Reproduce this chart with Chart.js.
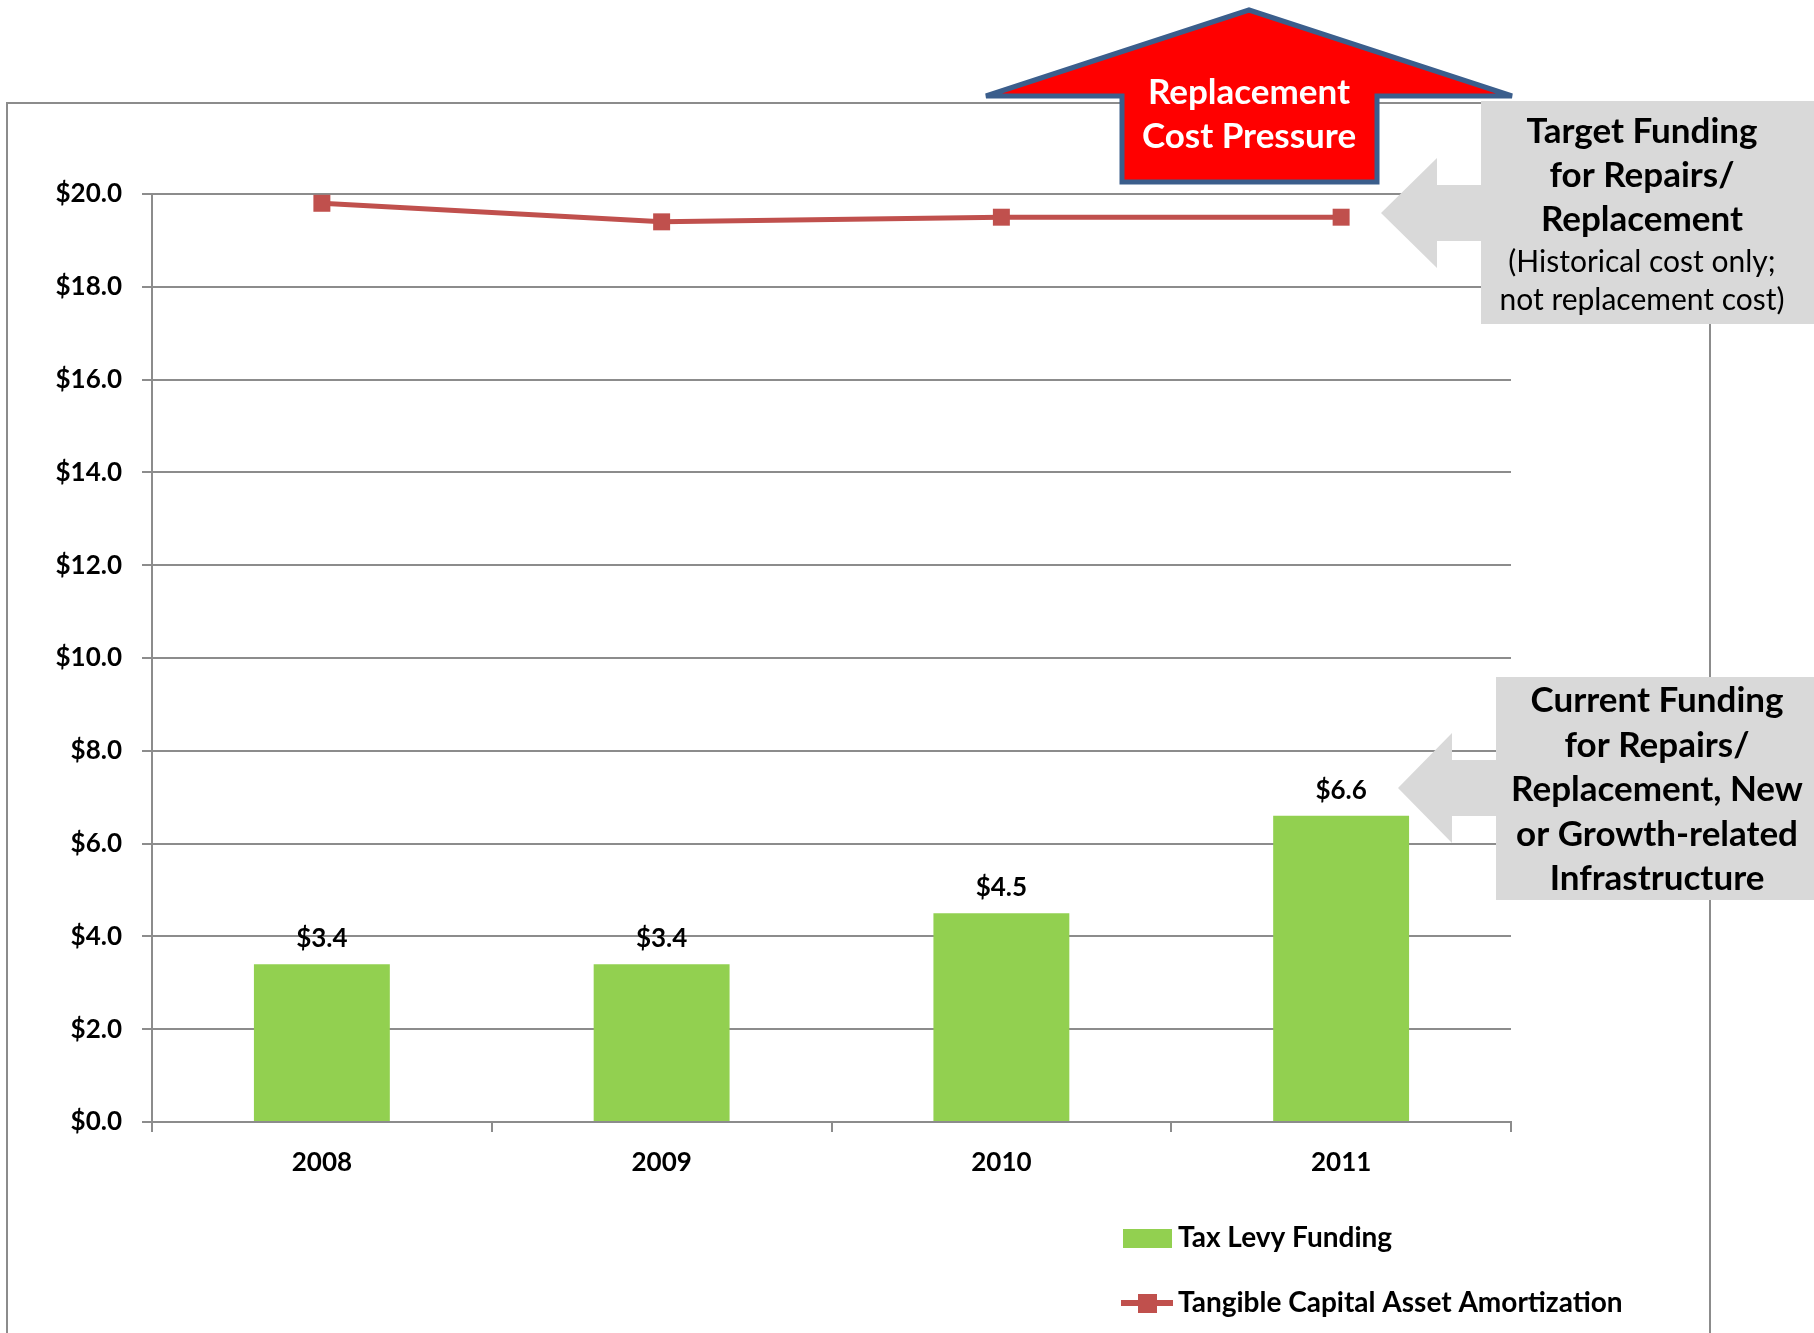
<!DOCTYPE html>
<html>
<head>
<meta charset="utf-8">
<script src="https://cdn.jsdelivr.net/npm/chart.js@4.4.1/dist/chart.umd.min.js"></script>
<style>
  html, body { margin: 0; padding: 0; background: #fff; }
  #wrap { width: 1814px; height: 1333px; }
</style>
</head>
<body>
<div id="wrap"><canvas id="funding" width="1814" height="1333"></canvas></div>
<script>
var years = ["2008", "2009", "2010", "2011"];
var taxLevy = [3.4, 3.4, 4.5, 6.6];
var amortization = [19.8, 19.4, 19.5, 19.5];
var seriesNames = ["Tax Levy Funding", "Tangible Capital Asset Amortization"];
var yMin = 0, yMax = 20, yStep = 2;

// callout texts
var arrowText = ["Replacement", "Cost Pressure"];
var targetText = ["Target Funding", "for Repairs/", "Replacement"];
var targetNote = ["(Historical cost only;", "not replacement cost)"];
var currentText = ["Current Funding", "for Repairs/", "Replacement, New", "or Growth-related", "Infrastructure"];

var green = "#92D050";
var red = "#C0504D";
var gridGray = "#8C8C8C";
var calloutGray = "#D9D9D9";
var FONT = "Lato, 'Open Sans', sans-serif";

function poly(ctx, pts) {
  ctx.beginPath();
  ctx.moveTo(pts[0][0], pts[0][1]);
  for (var i = 1; i < pts.length; i++) ctx.lineTo(pts[i][0], pts[i][1]);
  ctx.closePath();
}

function lines(ctx, arr, x, y0, step, font, color) {
  ctx.font = font;
  ctx.fillStyle = color;
  ctx.textAlign = "center";
  ctx.textBaseline = "middle";
  arr.forEach(function (t, i) { ctx.fillText(t, x, y0 + i * step); });
}

// grey box with a fat arrow pointing left
function callout(ctx, tipX, tipY, headX, boxX, boxTop, boxBottom) {
  ctx.fillStyle = calloutGray;
  ctx.fillRect(boxX, boxTop, 1814 - boxX, boxBottom - boxTop);
  poly(ctx, [[tipX, tipY], [headX, tipY - 55], [headX, tipY - 28], [boxX + 1, tipY - 28],
             [boxX + 1, tipY + 28], [headX, tipY + 28], [headX, tipY + 55]]);
  ctx.fill();
}

var decor = {
  id: "decor",
  beforeDraw: function (chart) {
    var ctx = chart.ctx;
    ctx.save();
    ctx.fillStyle = "#fff";
    ctx.fillRect(0, 0, chart.width, chart.height);
    ctx.strokeStyle = gridGray;
    ctx.lineWidth = 2;
    ctx.strokeRect(7, 103, 1703, 1300);
    ctx.restore();
  },
  afterDatasetsDraw: function (chart) {
    var ctx = chart.ctx;
    ctx.save();
    ctx.font = "bold 26px " + FONT;
    ctx.fillStyle = "#000";
    ctx.textAlign = "center";
    ctx.textBaseline = "alphabetic";
    chart.getDatasetMeta(0).data.forEach(function (bar, i) {
      ctx.fillText("$" + taxLevy[i].toFixed(1), bar.x, bar.y - 17);
    });
    ctx.restore();
  },
  afterDraw: function (chart) {
    var ctx = chart.ctx;
    ctx.save();

    // red up arrow
    poly(ctx, [[1249, 10], [1512, 96], [1377, 96], [1377, 182], [1122, 182], [1122, 96], [986, 96]]);
    ctx.fillStyle = "#FF0000";
    ctx.fill();
    ctx.lineJoin = "miter";
    ctx.miterLimit = 2;
    ctx.strokeStyle = "#3B5E8C";
    ctx.lineWidth = 5;
    ctx.stroke();
    lines(ctx, arrowText, 1249, 93, 44, "bold 35px " + FONT, "#fff");

    // target funding callout
    callout(ctx, 1381, 213, 1437, 1481, 101, 324);
    lines(ctx, targetText, 1642, 132, 44, "bold 35px " + FONT, "#000");
    lines(ctx, targetNote, 1642, 262, 38, "30px " + FONT, "#000");

    // current funding callout
    callout(ctx, 1398, 788, 1452, 1496, 677, 900);
    lines(ctx, currentText, 1657, 701, 44.5, "bold 35px " + FONT, "#000");

    // legend
    var ds = chart.data.datasets;
    ctx.font = "bold 28px " + FONT;
    ctx.textAlign = "left";
    ctx.textBaseline = "middle";
    ctx.fillStyle = ds[0].backgroundColor;
    ctx.fillRect(1123, 1229, 49, 19);
    ctx.fillStyle = "#000";
    ctx.fillText(ds[0].label, 1178, 1238);
    ctx.strokeStyle = ds[1].borderColor;
    ctx.lineWidth = 6;
    ctx.beginPath();
    ctx.moveTo(1121, 1303);
    ctx.lineTo(1173, 1303);
    ctx.stroke();
    ctx.fillStyle = ds[1].borderColor;
    ctx.fillRect(1138, 1294, 19, 19);
    ctx.fillStyle = "#000";
    ctx.fillText(ds[1].label, 1178, 1303);

    ctx.restore();
  }
};

new Chart("funding", {
  type: "bar",
  data: {
    labels: years,
    datasets: [{
      label: seriesNames[0],
      data: taxLevy,
      backgroundColor: green,
      categoryPercentage: 1,
      barPercentage: 0.4,
      order: 2
    }, {
      type: "line",
      label: seriesNames[1],
      data: amortization,
      borderColor: red,
      backgroundColor: red,
      borderWidth: 5,
      pointStyle: "rect",
      pointRadius: 12,
      pointBorderWidth: 0,
      tension: 0,
      order: 1
    }]
  },
  options: {
    responsive: false,
    animation: false,
    layout: { padding: { left: 0, top: 194, right: 303, bottom: 0 } },
    plugins: {
      legend: { display: false },
      tooltip: { enabled: false }
    },
    scales: {
      x: {
        grid: { offset: true, drawOnChartArea: false, drawTicks: true, tickLength: 10, color: gridGray, lineWidth: 2 },
        border: { color: gridGray, width: 2 },
        ticks: { color: "#000", font: { family: FONT, size: 26, weight: "bold" }, padding: 15 },
        afterFit: function (s) { s.height = 211; }
      },
      y: {
        min: yMin,
        max: yMax,
        grid: { color: gridGray, lineWidth: 2, tickLength: 10 },
        border: { color: gridGray, width: 2 },
        ticks: {
          stepSize: yStep,
          color: "#000",
          padding: 20,
          font: { family: FONT, size: 26, weight: "bold" },
          callback: function (v) { return "$" + v.toFixed(1); }
        },
        afterFit: function (s) { s.width = 152; }
      }
    }
  },
  plugins: [decor]
});
</script>
</body>
</html>
